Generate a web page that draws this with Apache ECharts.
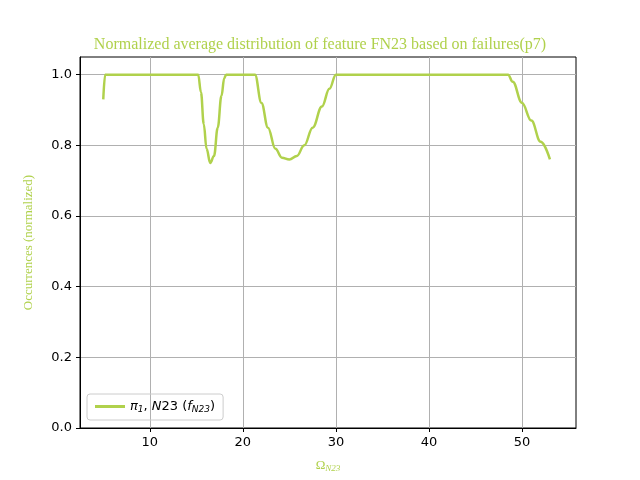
<!DOCTYPE html>
<html>
<head>
<meta charset="utf-8">
<script src="https://cdn.jsdelivr.net/npm/echarts@6/dist/echarts.min.js"></script>
<style>html,body{margin:0;padding:0;background:#fff}#c{width:640px;height:480px}</style>
</head>
<body>
<div id="c"></div>
<script>
// curve: omega values and normalized occurrences
var omega = [5, 5.2, 15.2, 15.5, 15.8, 16.1, 16.5, 16.9, 17.3, 17.7, 18.0, 18.2,
  21.3, 22, 22.7, 23.5, 24.2, 25, 25.8, 26.6, 27.5, 28.5, 29.3, 30,
  48.5, 49, 50, 51, 52, 53];
var occ = [0.93, 1.0, 1.0, 0.95, 0.86, 0.79, 0.75, 0.77, 0.85, 0.94, 0.99, 1.0,
  1.0, 0.92, 0.85, 0.79, 0.765, 0.76, 0.77, 0.80, 0.85, 0.91, 0.96, 1.0,
  1.0, 0.98, 0.92, 0.87, 0.81, 0.76];
var xTicks = [10, 20, 30, 40, 50];
var yTicks = [0, 0.2, 0.4, 0.6, 0.8, 1.0];
var green = '#b0d14c';

var pts = omega.map(function (x, i) { return [x, occ[i]]; });
var chart = echarts.init(document.getElementById('c'));
chart.setOption({
  animation: false,
  title: {
    text: 'Normalized average distribution of feature FN23 based on failures(p7)',
    left: 'center', top: 32,
    textStyle: {fontFamily: 'Liberation Serif', fontWeight: 'normal', fontSize: 16, color: green}
  },
  grid: {left: 80, right: 64, top: 57, bottom: 52, show: true, borderColor: '#000', borderWidth: 1},
  legend: {
    left: 87, bottom: 60, orient: 'vertical',
    borderColor: '#ccc', borderWidth: 1, borderRadius: 3, padding: [6, 8],
    itemWidth: 30, itemHeight: 3,
    data: [{name: 'pi', icon: 'rect'}],
    formatter: function () { return '{i|π}{s|1}{n|, }{i|N}{n|23 (}{i|f}{s|N23}{n|)}'; },
    textStyle: {
      fontSize: 13, color: '#000',
      rich: {
        i: {fontStyle: 'italic', fontSize: 13, fontFamily: 'DejaVu Sans'},
        n: {fontSize: 13, fontFamily: 'DejaVu Sans'},
        s: {fontStyle: 'italic', fontSize: 9, verticalAlign: 'bottom', padding: [6, 0, 0, 0], fontFamily: 'DejaVu Sans'}
      }
    }
  },
  xAxis: {
    type: 'value', min: 2.5, max: 55.8,
    name: 'Ω{s|N23}', nameLocation: 'middle', nameGap: 30,
    nameTextStyle: {fontFamily: 'Liberation Serif', fontSize: 13, color: green,
      rich: {s: {fontStyle: 'italic', fontSize: 9, color: green, padding: [6, 0, 0, 0], fontFamily: 'Liberation Serif'}}},
    axisLine: {lineStyle: {color: '#000'}},
    axisTick: {show: true, customValues: xTicks, length: 4, lineStyle: {color: '#000'}},
    axisLabel: {customValues: xTicks, color: '#000', fontSize: 13, fontFamily: 'DejaVu Sans'},
    splitLine: {show: true, lineStyle: {color: '#b0b0b0', width: 1}}
  },
  yAxis: {
    type: 'value', min: 0, max: 1.05,
    name: 'Occurrences (normalized)', nameLocation: 'middle', nameGap: 45,
    nameTextStyle: {fontFamily: 'Liberation Serif', fontSize: 13, color: green},
    axisLine: {show: true, lineStyle: {color: '#000'}},
    axisTick: {show: true, customValues: yTicks, length: 4, lineStyle: {color: '#000'}},
    axisLabel: {customValues: yTicks, color: '#000', fontSize: 13, fontFamily: 'DejaVu Sans',
      formatter: function (v) { return v.toFixed(1); }},
    splitLine: {show: true, lineStyle: {color: '#b0b0b0', width: 1}}
  },
  series: [{
    name: 'pi', type: 'line', data: pts, smooth: 0.4, smoothMonotone: 'x', showSymbol: false,
    lineStyle: {color: green, width: 2.5}, itemStyle: {color: green}
  }]
});
</script>
</body>
</html>
